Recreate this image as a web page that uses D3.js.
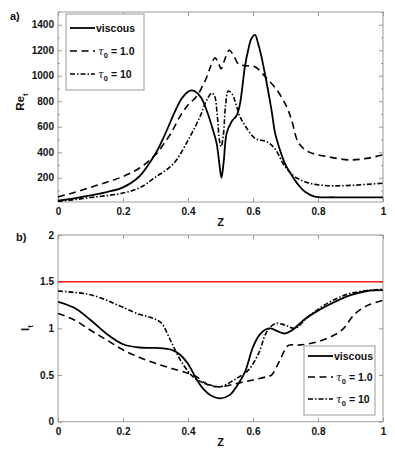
<!DOCTYPE html>
<meta charset="utf-8">
<style>
  body { margin: 0; background: #fff; }
  text { font-family: "Liberation Sans", Arial, Helvetica, sans-serif; font-weight: bold; fill: #111; }
  .frame { fill: none; stroke: #9a9a9a; stroke-width: 1; }
  .axis line { stroke: #9a9a9a; }
  .axis path { display: none; }
  .axis text { font-size: 10px; font-family: "Liberation Sans", Arial, sans-serif; font-weight: bold; fill: #111; }
  .curve { fill: none; stroke: #000; }
  .legbox { fill: #fff; stroke: #9a9a9a; stroke-width: 1; }
</style>
<body>
<script src="https://cdnjs.cloudflare.com/ajax/libs/d3/7.8.5/d3.min.js"></script>
<script>
var width = 395, height = 449;

// ---- panel a) Re_t against Z
var reViscousZ = [0, 0.05, 0.1, 0.15, 0.2, 0.25, 0.3, 0.33, 0.36, 0.38, 0.4, 0.41, 0.42, 0.44, 0.46, 0.475, 0.488, 0.497, 0.503, 0.51, 0.519, 0.534, 0.55, 0.56, 0.575, 0.585, 0.595, 0.606, 0.616, 0.626, 0.642, 0.657, 0.668, 0.683, 0.698, 0.719, 0.74, 0.76, 0.79, 0.85, 1];
var reViscous  = [20, 38, 62, 88, 125, 210, 390, 545, 720, 820, 875, 886, 880, 830, 710, 590, 470, 300, 200, 330, 550, 640, 690, 780, 1070, 1200, 1290, 1320, 1250, 1150, 945, 730, 550, 418, 313, 220, 143, 90, 52, 47, 47];

var reTau1Z = [0, 0.05, 0.1, 0.15, 0.2, 0.25, 0.3, 0.324, 0.35, 0.375, 0.4, 0.427, 0.456, 0.47, 0.483, 0.492, 0.502, 0.512, 0.527, 0.542, 0.556, 0.58, 0.606, 0.642, 0.673, 0.704, 0.719, 0.74, 0.77, 0.83, 0.9, 0.95, 1];
var reTau1  = [50, 85, 125, 165, 210, 275, 380, 460, 560, 680, 770, 840, 980, 1075, 1140, 1110, 1055, 1120, 1200, 1150, 1090, 1078, 1070, 980, 890, 755, 650, 475, 405, 365, 340, 352, 380];

var reTau10Z = [0, 0.05, 0.1, 0.15, 0.2, 0.25, 0.3, 0.355, 0.406, 0.437, 0.456, 0.473, 0.482, 0.49, 0.497, 0.502, 0.509, 0.516, 0.524, 0.535, 0.56, 0.575, 0.606, 0.642, 0.668, 0.698, 0.729, 0.77, 0.83, 0.9, 1];
var reTau10  = [15, 28, 45, 60, 80, 120, 205, 310, 522, 680, 800, 865, 840, 690, 490, 445, 540, 780, 880, 860, 680, 612, 510, 483, 425, 290, 208, 160, 138, 140, 158];

var reTicks = [200, 400, 600, 800, 1000, 1200, 1400];
var reMinorTicks = [100, 300, 500, 700, 900, 1100, 1300, 1500];

// ---- panel b) I_t against Z
var itViscousZ = [0, 0.05, 0.1, 0.15, 0.2, 0.25, 0.3, 0.35, 0.375, 0.4, 0.427, 0.45, 0.468, 0.5, 0.53, 0.55, 0.575, 0.6, 0.62, 0.64, 0.655, 0.675, 0.698, 0.72, 0.76, 0.8, 0.832, 0.9, 0.95, 1];
var itViscous  = [1.285, 1.22, 1.09, 0.94, 0.83, 0.795, 0.79, 0.77, 0.72, 0.62, 0.45, 0.34, 0.286, 0.25, 0.29, 0.38, 0.53, 0.8, 0.93, 0.99, 1.0, 0.97, 0.945, 0.98, 1.1, 1.19, 1.25, 1.355, 1.4, 1.41];

var itTau1Z = [0, 0.05, 0.1, 0.15, 0.2, 0.25, 0.3, 0.35, 0.4, 0.427, 0.45, 0.468, 0.5, 0.55, 0.6, 0.64, 0.657, 0.678, 0.7, 0.71, 0.74, 0.78, 0.83, 0.873, 0.915, 0.955, 1];
var itTau1  = [1.16, 1.09, 0.98, 0.875, 0.77, 0.69, 0.625, 0.57, 0.52, 0.48, 0.42, 0.385, 0.375, 0.41, 0.447, 0.48, 0.5, 0.625, 0.78, 0.82, 0.82, 0.84, 0.895, 0.98, 1.16, 1.25, 1.3];

var itTau10Z = [0, 0.05, 0.1, 0.15, 0.2, 0.25, 0.283, 0.304, 0.32, 0.345, 0.375, 0.4, 0.416, 0.45, 0.468, 0.5, 0.55, 0.585, 0.617, 0.642, 0.668, 0.698, 0.729, 0.77, 0.83, 0.9, 1];
var itTau10  = [1.4, 1.385, 1.36, 1.3, 1.225, 1.15, 1.12, 1.09, 1.05, 0.88, 0.67, 0.54, 0.48, 0.41, 0.393, 0.375, 0.465, 0.55, 0.73, 0.96, 1.05, 1.036, 1.0, 1.125, 1.27, 1.375, 1.42];

var itThreshold = 1.5;
var itTicks = [0, 0.5, 1, 1.5, 2];

var zTicks = [0, 0.2, 0.4, 0.6, 0.8, 1];

var svg = d3.select("body").append("svg")
    .attr("width", width)
    .attr("height", height);

var x = d3.scaleLinear().domain([0, 1]).range([58, 383]);
var yTop = d3.scaleLinear().domain([10, 1500]).range([202, 12]);
var yBot = d3.scaleLinear().domain([0, 2]).range([421.7, 235]);

var styles = {
  viscous: { dash: null, w: 1.8 },
  tau1: { dash: "7,4.5", w: 1.6 },
  tau10: { dash: "5,2,1.5,2", w: 1.6 }
};

function zip(zs, vs) {
  return zs.map(function(z, i) { return [z, vs[i]]; });
}

function panel(id, y, top, bottom, ticks, minor, fmt) {
  var g = svg.append("g");

  g.append("clipPath").attr("id", id)
    .append("rect")
    .attr("x", x(0)).attr("y", top)
    .attr("width", x(1) - x(0)).attr("height", bottom - top);

  g.append("g").attr("class", "axis")
      .attr("transform", "translate(0," + bottom + ")")
      .call(d3.axisBottom(x).tickValues(zTicks).tickSize(-4).tickPadding(6)
        .tickFormat(function(d) { return d === 0 || d === 1 ? d : d3.format(".1f")(d); }));
  g.append("g").attr("class", "axis")
      .attr("transform", "translate(0," + top + ")")
      .call(d3.axisTop(x).tickValues(zTicks).tickSize(-4).tickFormat(""));
  g.append("g").attr("class", "axis")
      .attr("transform", "translate(" + x(0) + ",0)")
      .call(d3.axisLeft(y).tickValues(ticks).tickSize(-4).tickPadding(4).tickFormat(fmt));
  g.append("g").attr("class", "axis")
      .attr("transform", "translate(" + x(1) + ",0)")
      .call(d3.axisRight(y).tickValues(ticks).tickSize(-4).tickFormat(""));
  if (minor) {
    g.append("g").attr("class", "axis")
        .attr("transform", "translate(" + x(0) + ",0)")
        .call(d3.axisLeft(y).tickValues(minor).tickSize(-2).tickFormat(""));
    g.append("g").attr("class", "axis")
        .attr("transform", "translate(" + x(1) + ",0)")
        .call(d3.axisRight(y).tickValues(minor).tickSize(-2).tickFormat(""));
  }

  g.append("rect").attr("class", "frame")
    .attr("x", x(0)).attr("y", top)
    .attr("width", x(1) - x(0)).attr("height", bottom - top);

  return g;
}

function curve(g, id, y, pts, st, color) {
  var line = d3.line()
      .x(function(d) { return x(d[0]); })
      .y(function(d) { return y(d[1]); })
      .curve(d3.curveCatmullRom.alpha(0.5));
  g.append("path")
      .datum(pts)
      .attr("class", "curve")
      .attr("clip-path", "url(#" + id + ")")
      .attr("d", line)
      .style("stroke", color || "#000")
      .style("stroke-width", st.w)
      .style("stroke-dasharray", st.dash);
}

function legend(g, bx, by, bw, bh, rowY) {
  g.append("rect").attr("class", "legbox")
    .attr("x", bx).attr("y", by).attr("width", bw).attr("height", bh);
  var rows = [
    { st: styles.viscous, label: "viscous" },
    { st: styles.tau1, label: " = 1.0", tau: true },
    { st: styles.tau10, label: " = 10", tau: true }
  ];
  rows.forEach(function(r, i) {
    var yy = rowY[i];
    g.append("line")
      .attr("x1", bx + 4).attr("x2", bx + 29)
      .attr("y1", yy).attr("y2", yy)
      .style("stroke", "#000")
      .style("stroke-width", r.st.w)
      .style("stroke-dasharray", r.st.dash);
    var t = g.append("text")
      .attr("x", bx + 30).attr("y", yy + 3.8)
      .style("font-size", "10.5px");
    if (r.tau) {
      t.append("tspan").text("\u03c4")
        .style("font-style", "italic").style("font-weight", "normal")
        .style("font-family", "'DejaVu Serif', serif").attr("dx", 2);
      t.append("tspan").text("0").attr("dy", 3).style("font-size", "7.5px");
      t.append("tspan").text(r.label).attr("dy", -3);
    } else {
      t.text(r.label);
    }
  });
}

// ---- panel a
var ga = panel("clipA", yTop, 12, 202, reTicks, reMinorTicks, d3.format("d"));
curve(ga, "clipA", yTop, zip(reTau1Z, reTau1), styles.tau1);
curve(ga, "clipA", yTop, zip(reTau10Z, reTau10), styles.tau10);
curve(ga, "clipA", yTop, zip(reViscousZ, reViscous), styles.viscous);
legend(ga, 66, 14, 78, 76, [28, 51, 74]);

ga.append("text").attr("x", 10).attr("y", 20).style("font-size", "11px").text("a)");
ga.append("text").attr("x", x(0.5)).attr("y", 226).attr("text-anchor", "middle")
  .style("font-size", "11px").text("Z");
var reLab = ga.append("text")
  .attr("transform", "translate(24,102) rotate(-90)")
  .attr("text-anchor", "middle")
  .style("font-size", "11.5px");
reLab.append("tspan").text("Re");
reLab.append("tspan").text("t").attr("dy", 3.5).style("font-size", "8px");

// ---- panel b
var gb = panel("clipB", yBot, 235, 421.7, itTicks, null, function(d) { return d; });
gb.append("line")
  .attr("x1", x(0)).attr("x2", x(1))
  .attr("y1", yBot(itThreshold)).attr("y2", yBot(itThreshold))
  .style("stroke", "#ff1a1a").style("stroke-width", 1.6);
curve(gb, "clipB", yBot, zip(itTau1Z, itTau1), styles.tau1);
curve(gb, "clipB", yBot, zip(itTau10Z, itTau10), styles.tau10);
curve(gb, "clipB", yBot, zip(itViscousZ, itViscous), styles.viscous);
legend(gb, 304, 346, 71, 69, [356, 377, 399]);

gb.append("text").attr("x", 16).attr("y", 241).style("font-size", "11px").text("b)");
gb.append("text").attr("x", x(0.5)).attr("y", 446).attr("text-anchor", "middle")
  .style("font-size", "11px").text("Z");
var itLab = gb.append("text")
  .attr("transform", "translate(29,328) rotate(-90)")
  .attr("text-anchor", "middle")
  .style("font-size", "11.5px");
itLab.append("tspan").text("I");
itLab.append("tspan").text("t").attr("dy", 3.5).style("font-size", "8px");
</script>
